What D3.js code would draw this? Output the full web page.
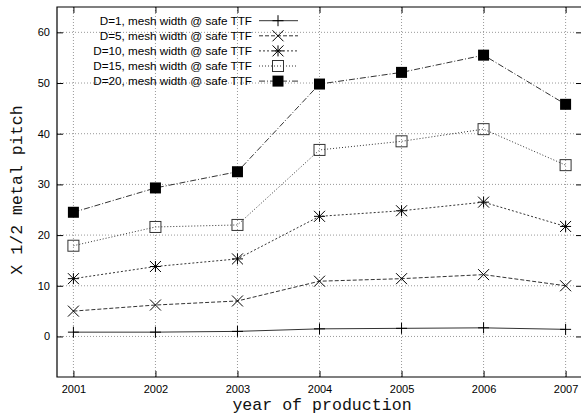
<!DOCTYPE html>
<html>
<head>
<meta charset="utf-8">
<script src="https://cdn.jsdelivr.net/npm/d3@7"></script>
<style>
  html, body { margin: 0; padding: 0; background: #fff; overflow: hidden; }
  svg { display: block; }
  .tick-label { font-family: "Liberation Sans", Arial, sans-serif; font-size: 11px; fill: #000; }
  .axis-title { font-family: "Liberation Mono", "Courier New", monospace; font-size: 16.6px; fill: #111; }
  .legend-text { font-family: "Liberation Sans", Arial, sans-serif; font-size: 11.7px; fill: #000; }
</style>
</head>
<body>
<script>
const years = [2001, 2002, 2003, 2004, 2005, 2006, 2007];
const yTicks = [0, 10, 20, 30, 40, 50, 60];

const seriesNames = [
  "D=1, mesh width @ safe TTF",
  "D=5, mesh width @ safe TTF",
  "D=10, mesh width @ safe TTF",
  "D=15, mesh width @ safe TTF",
  "D=20, mesh width @ safe TTF"
];
const d1 = [0.85, 0.85, 1.0, 1.5, 1.6, 1.7, 1.4];
const d5 = [5.0, 6.2, 7.0, 10.9, 11.4, 12.2, 10.0];
const d10 = [11.4, 13.8, 15.3, 23.7, 24.8, 26.5, 21.7];
const d15 = [17.9, 21.6, 22.0, 36.8, 38.5, 40.9, 33.8];
const d20 = [24.5, 29.3, 32.5, 49.8, 52.1, 55.5, 45.8];

const seriesValues = [d1, d5, d10, d15, d20];
const dashes = [null, "4,2", "2,2", "1,2", "6,2,1,2"];
const markers = ["plus", "cross", "star", "box", "fbox"];

const outerWidth = 581;
const outerHeight = 416;
const margin = { left: 57, top: 7, right: -1, bottom: 39 };
const x0 = margin.left, x1 = outerWidth - margin.right;
const y0 = margin.top, y1 = outerHeight - margin.bottom;

const svg = d3.select('body')
  .append('svg')
    .attr('width', outerWidth)
    .attr('height', outerHeight);

// right edge of the plot is cropped in the reference
const xScale = d3.scaleLinear()
  .domain([2000.80, 2007.20])
  .range([x0, x1]);

const yScale = d3.scaleLinear()
  .domain([-8, 65])
  .range([y1, y0]);

// dotted grid
svg.append('g').selectAll('line')
  .data(years)
  .join('line')
    .attr('x1', d => xScale(d)).attr('x2', d => xScale(d))
    .attr('y1', y0).attr('y2', y1)
    .attr('stroke', '#999').attr('stroke-width', 1)
    .attr('stroke-dasharray', '1,2');

svg.append('g').selectAll('line')
  .data(yTicks)
  .join('line')
    .attr('x1', x0).attr('x2', x1 - 6)
    .attr('y1', d => yScale(d)).attr('y2', d => yScale(d))
    .attr('stroke', '#999').attr('stroke-width', 1)
    .attr('stroke-dasharray', '1,2');

// axes, ticks pointing inward
const xAxis = d3.axisBottom(xScale).tickValues(years).tickSize(-6).tickSizeOuter(0)
  .tickFormat(d3.format('d')).tickPadding(8);
svg.append('g')
  .attr('transform', `translate(0,${y1})`)
  .call(xAxis);

const yAxis = d3.axisLeft(yScale).tickValues(yTicks).tickSize(-6).tickSizeOuter(0).tickPadding(7);
svg.append('g')
  .attr('transform', `translate(${x0},0)`)
  .call(yAxis);

// mirror ticks (no labels)
const xAxisTop = d3.axisTop(xScale).tickValues(years).tickSize(-6).tickSizeOuter(0);
const topG = svg.append('g').attr('transform', `translate(0,${y0})`).call(xAxisTop);
topG.selectAll('text').remove();

const yAxisRight = d3.axisRight(yScale).tickValues(yTicks).tickSize(-6).tickSizeOuter(0);
const rightG = svg.append('g').attr('transform', `translate(${x1},0)`).call(yAxisRight);
rightG.selectAll('text').remove();

svg.selectAll('.domain').remove();
svg.selectAll('.tick line').attr('stroke', '#000');
svg.selectAll('.tick text').attr('class', 'tick-label').attr('font-family', null).attr('font-size', null);

// frame
svg.append('path')
  .attr('d', `M${x1},${y0}H${x0}V${y1}H${x1}`)
  .attr('fill', 'none').attr('stroke', '#000').attr('stroke-width', 1.2);

const drawMarker = (sel, type, cx, cy) => {
  const s = 5.5;
  if (type === 'plus') {
    sel.append('path').attr('d', `M${cx - s},${cy}H${cx + s}M${cx},${cy - s}V${cy + s}`)
      .attr('stroke', '#000').attr('fill', 'none');
  } else if (type === 'cross') {
    sel.append('path').attr('d', `M${cx - s},${cy - s}L${cx + s},${cy + s}M${cx - s},${cy + s}L${cx + s},${cy - s}`)
      .attr('stroke', '#000').attr('fill', 'none');
  } else if (type === 'star') {
    sel.append('path').attr('d', `M${cx - s},${cy - s}L${cx + s},${cy + s}M${cx - s},${cy + s}L${cx + s},${cy - s}M${cx},${cy - s}V${cy + s}M${cx - s},${cy}H${cx + s}`)
      .attr('stroke', '#000').attr('fill', 'none');
  } else if (type === 'box') {
    sel.append('rect').attr('x', cx - 5.5).attr('y', cy - 5.5).attr('width', 11).attr('height', 11)
      .attr('stroke', '#333').attr('fill', 'none');
  } else {
    sel.append('rect').attr('x', cx - 5.5).attr('y', cy - 5.5).attr('width', 11).attr('height', 11)
      .attr('fill', '#000');
  }
};

const line = d3.line()
  .x((d, i) => xScale(years[i]))
  .y(d => yScale(d));

seriesValues.forEach((vals, k) => {
  const sg = svg.append('g');
  sg.append('path')
    .datum(vals)
    .attr('d', line)
    .attr('fill', 'none')
    .attr('stroke', '#333')
    .attr('stroke-width', 1)
    .attr('stroke-dasharray', dashes[k]);
  vals.forEach((v, i) => drawMarker(sg, markers[k], xScale(years[i]), yScale(v)));
});

// legend
const legendG = svg.append('g');
seriesNames.forEach((name, k) => {
  const y = 20.7 + k * 15.1;
  legendG.append('text')
    .attr('class', 'legend-text')
    .attr('x', 252).attr('y', y).attr('dy', '0.35em')
    .attr('text-anchor', 'end')
    .text(name);
  legendG.append('line')
    .attr('x1', 259).attr('x2', 298).attr('y1', y).attr('y2', y)
    .attr('stroke', '#333').attr('stroke-dasharray', dashes[k]);
  drawMarker(legendG, markers[k], 278, y);
});

// axis titles
svg.append('text')
  .attr('class', 'axis-title')
  .attr('x', 322).attr('y', 410)
  .attr('text-anchor', 'middle')
  .text('year of production');

svg.append('text')
  .attr('class', 'axis-title')
  .attr('transform', 'translate(22,190) rotate(-90)')
  .attr('text-anchor', 'middle')
  .text('X 1/2 metal pitch');
</script>
</body>
</html>
